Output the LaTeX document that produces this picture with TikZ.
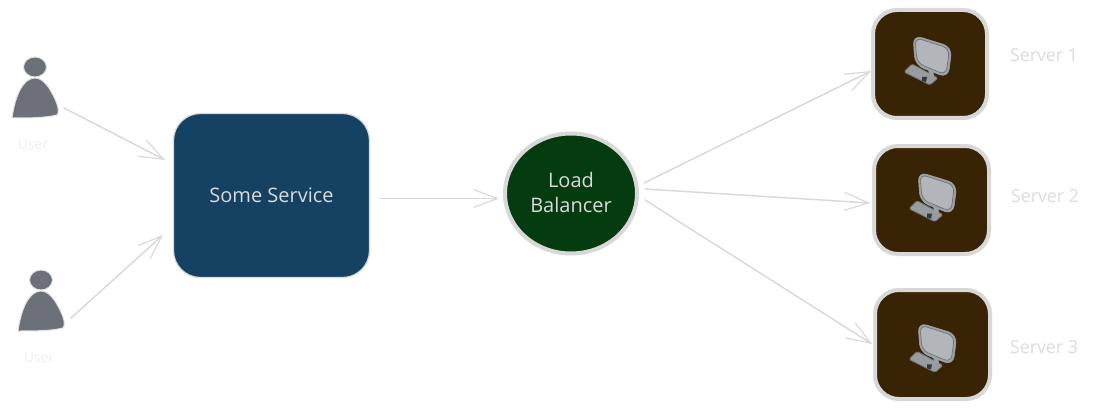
\documentclass[tikz,border=0pt]{standalone}
\usepackage{fontspec}
\setmainfont{Open Sans}
\usetikzlibrary{shapes.geometric,arrows.meta}
\definecolor{edgegrey}{HTML}{D8D8D8}
\definecolor{serverfill}{HTML}{382404}
\definecolor{servicefill}{HTML}{154262}
\definecolor{lbfill}{HTML}{043C10}
\definecolor{usergrey}{HTML}{6B7079}
\definecolor{useredge}{HTML}{E2E2E2}
\definecolor{innertext}{HTML}{DADADA}
\definecolor{servertext}{HTML}{DCDCDC}
\definecolor{usertext}{HTML}{EFEFEF}
\definecolor{pcframe}{HTML}{6E7277}
\definecolor{pcouter}{HTML}{9DA1A6}
\definecolor{pcscreen}{HTML}{B2B6BA}
\definecolor{pckeys}{HTML}{989CA1}
\definecolor{pcdark}{HTML}{34373B}
\tikzset{
  serverbox/.style={draw=edgegrey,line width=4pt,fill=serverfill,rectangle,rounded corners=24pt,inner sep=0pt},
  servicebox/.style={draw=edgegrey,line width=1.2pt,fill=servicefill,rectangle,rounded corners=27pt,minimum width=196pt,minimum height=164pt,inner sep=0pt,text=innertext,font=\fontsize{20}{24}\selectfont},
  lbnode/.style={draw=edgegrey,line width=4pt,fill=lbfill,ellipse,minimum width=132pt,minimum height=120pt,inner sep=0pt,text=innertext,align=center,font=\fontsize{20}{24.5}\selectfont},
  serverlabel/.style={text=servertext,font=\fontsize{17.8}{20}\selectfont,inner sep=0pt},
  userlabel/.style={text=usertext,font=\fontsize{14}{16}\selectfont,inner sep=0pt},
  conn/.style={draw=edgegrey,line width=1.4pt,line cap=round,-{Straight Barb[length=24pt,width=18pt,line width=1.1pt]}},
  pics/computer/.style={code={
    \draw[pcframe,fill=pckeys,line width=.8pt,rounded corners=1.5pt] (-26,10)--(-18,2)--(8,16)--(0,23)--cycle;
    \fill[pcouter] (-3,5)--(3,7)--(4,14)--(0,14)--cycle;
    \fill[pcdark] (-8,15)--(-3,15)--(-4,20)--(-8,19)--cycle;
    \draw[pcouter,fill=pcouter,line width=.6pt,rounded corners=9pt] (-17,-27)--(22,-15)--(18,16)--(-15,3)--cycle;
    \draw[pcframe,fill=pcscreen,line width=.7pt,rounded corners=7pt] (-15,-24.5)--(19.5,-13.5)--(16,13)--(-13,1)--cycle;
  }},
  pics/person/.style={code={
    \draw[useredge,fill=usergrey,line width=1pt] (0,-21) ellipse (11.5 and 10);
    \draw[useredge,fill=usergrey,line width=1pt] (0,-10) .. controls (-12,-10) and (-20,8) .. (-23,30)
       .. controls (-8,30) and (10,30) .. (22,27)
       .. controls (26,22) and (20,10) .. (14,0)
       .. controls (9,-7) and (5,-10) .. (0,-10) -- cycle;
  }}
}
\begin{document}
\begin{tikzpicture}[x=1pt,y=-1pt]
\useasboundingbox (0,0) rectangle (1094,409);
\fill[white] (0,0) rectangle (1094,409);

\coordinate (user1) at (35,88);
\coordinate (user2) at (41,301);
\pic at (user1) {person};
\pic at (user2) {person};
\node[userlabel] (user1label) at (33,145) {User};
\node[userlabel] (user2label) at (39,358) {User};

\node[servicebox] (svc) at (271.5,195.5) {Some Service};
\node[lbnode] (lb) at (571,193.5) {\raisebox{2pt}{Load}\\\raisebox{2pt}{Balancer}};

\node[serverbox,minimum width=114pt,minimum height=108pt] (s1) at (930,64) {};
\node[serverbox,minimum width=115pt,minimum height=108pt] (s2) at (931.5,200) {};
\node[serverbox,minimum width=115pt,minimum height=109pt] (s3) at (932.5,344.5) {};
\pic at (930,62) {computer};
\pic at (935,198.7) {computer};
\pic at (935,349.4) {computer};
\node[serverlabel] (s1label) at (1044,55) {Server 1};
\node[serverlabel] (s2label) at (1045,196) {Server 2};
\node[serverlabel] (s3label) at (1044,347) {Server 3};

\draw[conn] ([shift={(29,20)}]user1) -- ([shift={(-106.5,-35.5)}]svc.center);
\draw[conn] ([shift={(30,17)}]user2) -- ([shift={(-108.5,39.5)}]svc.center);
\draw[conn] ([shift={(108.5,3)}]svc.center) -- ([shift={(-72,5)}]lb.center);
\draw[conn] ([shift={(73,-10.5)}]lb.center) -- ([shift={(-59,7)}]s1.center);
\draw[conn] ([shift={(74,-4.5)}]lb.center) -- ([shift={(-61.5,3)}]s2.center);
\draw[conn] ([shift={(74,6.5)}]lb.center) -- ([shift={(-60.5,-0.5)}]s3.center);
\end{tikzpicture}
\end{document}
